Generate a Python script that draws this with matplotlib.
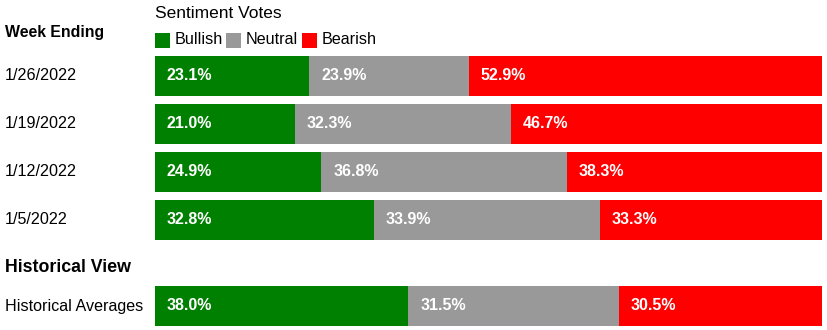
import matplotlib.pyplot as plt
import numpy as np

plt.rcParams['font.family'] = ['Liberation Sans', 'DejaVu Sans']

weeks = ['1/26/2022', '1/19/2022', '1/12/2022', '1/5/2022']
bullish = [23.1, 21.0, 24.9, 32.8]
neutral = [23.9, 32.3, 36.8, 33.9]
bearish = [52.9, 46.7, 38.3, 33.3]

hist_label = 'Historical Averages'
hist_values = [38.0, 31.5, 30.5]

series_names = ['Bullish', 'Neutral', 'Bearish']
colors = ['#008000', '#999999', '#ff0000']

W, H = 828, 330
fig = plt.figure(figsize=(W / 100, H / 100), dpi=100)

# bar area in pixel terms: x 155..822, y measured from the top
left_px, right_px = 155, 822
ax = fig.add_axes([left_px / W, 0, (right_px - left_px) / W, 1])
ax.set_xlim(0, 100)
ax.set_ylim(H, 0)
ax.axis('off')


def fx(px):
    return px / W


def fy(py):
    return 1 - py / H


rows = [list(r) for r in zip(bullish, neutral, bearish)] + [hist_values]
row_names = weeks + [hist_label]
row_centers = [76, 124, 172, 220, 306]
bar_h = 40

for vals, name, yc in zip(rows, row_names, row_centers):
    total = sum(vals)
    start = 0
    for v, c in zip(vals, colors):
        w = v / total * 100
        ax.barh(yc, w, left=start, height=bar_h, color=c, linewidth=0)
        ax.text(start + 12 / (right_px - left_px) * 100, yc, f'{v:.1f}%',
                color='white', fontsize=11.5, fontweight='bold', va='center', ha='left')
        start += w
    fig.text(fx(5), fy(yc), name, fontsize=11.6, va='center', ha='left')

# headings
fig.text(fx(5), fy(37), 'Week Ending', fontsize=11.4, fontweight='bold', va='baseline')
fig.text(fx(5), fy(272), 'Historical View', fontsize=12.8, fontweight='bold', va='baseline')
fig.text(fx(155), fy(18), 'Sentiment Votes', fontsize=12.5, va='baseline')

# legend
sq_x = [155, 226, 302]
for x, name, c in zip(sq_x, series_names, colors):
    fig.patches.append(plt.Rectangle((fx(x), fy(47.5)), 15 / W, 15 / H,
                                     transform=fig.transFigure, color=c, linewidth=0))
    fig.text(fx(x + 20), fy(44), name, fontsize=11.6, va='baseline')

fig.savefig('out.png', dpi=100)
